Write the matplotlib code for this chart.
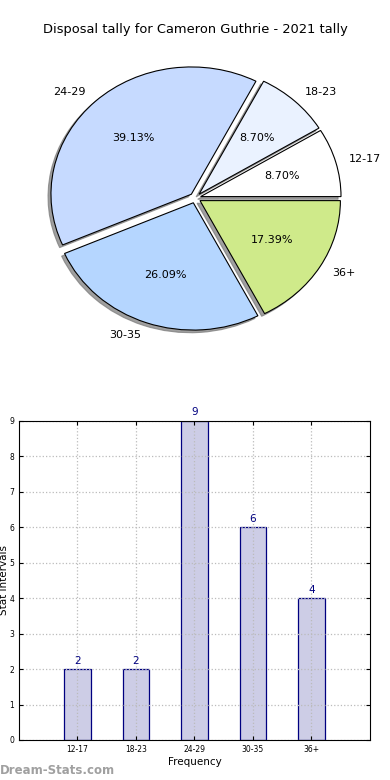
import matplotlib
matplotlib.use("Agg")
import matplotlib.pyplot as plt

# data
categories = ["12-17", "18-23", "24-29", "30-35", "36+"]
counts = [2, 2, 9, 6, 4]
pie_colors = ["#ffffff", "#eaf2ff", "#c6daff", "#b5d6ff", "#cfea8a"]
explode = [0.04, 0.04, 0.04, 0.04, 0.04]
title = "Disposal tally for Cameron Guthrie - 2021 tally"

fig = plt.figure(figsize=(3.9, 7.8), dpi=100)

# pie (old style, not forced round)
ax1 = fig.add_axes([0.0505, 0.5422, 0.9, 0.408])
wedges, texts, autotexts = ax1.pie(
    counts, labels=categories, colors=pie_colors, explode=explode,
    autopct="%.2f%%", shadow=dict(ox=-0.015, oy=-0.015, color="#777777", alpha=0.7),
    startangle=0,
    wedgeprops=dict(edgecolor="black", linewidth=0.8),
    textprops=dict(fontsize=8))
ax1.set_aspect("auto")
ax1.set_xlim(-1.25, 1.25)
ax1.set_ylim(-1.25, 1.25)
fig.text(0.5, 1 - 30 / 780, title, ha="center", va="center", fontsize=9.4)

# bar chart
ax2 = fig.add_axes([0.0487, 0.0513, 0.9, 0.409])
x = list(range(len(categories)))
ax2.bar(x, counts, width=0.45, color="#cdcde6", edgecolor="#000080",
        linewidth=0.9, zorder=2)
for xi, c in zip(x, counts):
    ax2.text(xi, c + 0.1, str(c), ha="center", va="bottom",
             color="#000080", fontsize=7.5)
ax2.set_xlim(-1, 5)
ax2.set_ylim(0, 9)
ax2.set_xticks(x)
ax2.set_xticklabels(categories)
ax2.set_yticks(range(10))
ax2.tick_params(labelsize=5.5, direction="in", top=True, right=True, length=3)
ax2.grid(True, linestyle=":", color="#bbbbbb", linewidth=0.9, zorder=3)
ax2.set_axisbelow(False)
for sp in ax2.spines.values():
    sp.set_zorder(4)
ax2.set_xlabel("Frequency", fontsize=7.5, labelpad=2)
ax2.set_ylabel("Stat Intervals", fontsize=7.5, labelpad=0)

fig.text(0.0, 1 - 770 / 780, "Dream-Stats.com", ha="left", va="center",
         color="#a0a0a0", fontsize=8.5, fontweight="bold")

fig.savefig("out.png", dpi=100)
